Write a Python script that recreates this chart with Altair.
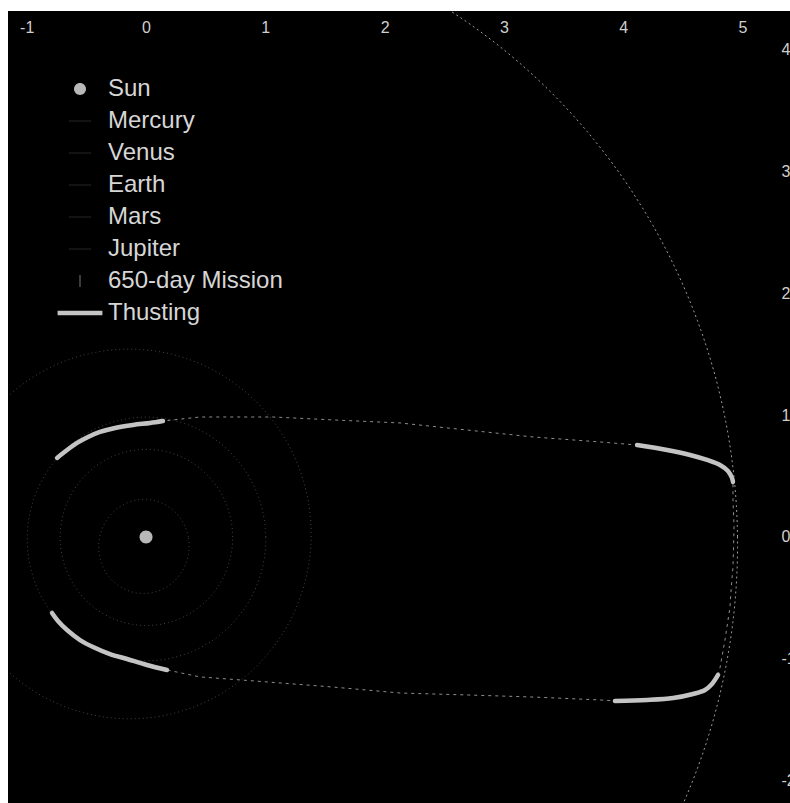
import altair as alt
import numpy as np
import pandas as pd

# ---------------- data ----------------
legend_names = ["Sun", "Mercury", "Venus", "Earth", "Mars", "Jupiter",
                "650-day Mission", "Thusting"]
legend_colors = ["#b8b8b8", "#1c1c1c", "#1c1c1c", "#1c1c1c", "#1c1c1c",
                 "#1c1c1c", "#6a6a6a", "#c4c4c4"]
legend_shapes = [
    "M0,-0.857A0.857,0.857 0 1,1 0,0.857A0.857,0.857 0 1,1 0,-0.857Z",
    "M-1.6,-0.1H1.6V0.1H-1.6Z",
    "M-1.6,-0.1H1.6V0.1H-1.6Z",
    "M-1.6,-0.1H1.6V0.1H-1.6Z",
    "M-1.6,-0.1H1.6V0.1H-1.6Z",
    "M-1.6,-0.1H1.6V0.1H-1.6Z",
    "M-0.08,-0.85H0.08V0.85H-0.08Z",
    "M-3.2,-0.32H3.2V0.32H-3.2Z",
]

# orbital elements (AU, -, degrees)
planets = ["Mercury", "Venus", "Earth", "Mars", "Jupiter"]
semi_major = [0.387, 0.723, 1.0, 1.524, 5.2]
eccentricity = [0.206, 0.007, 0.017, 0.093, 0.048]
perihelion_deg = [77, 131, 103, -10, 15]

# mission trajectory (AU)
seg_T1_x = [-0.746, -0.662, -0.578, -0.486, -0.386, -0.260, -0.109, 0.034, 0.142]
seg_T1_y = [0.649, 0.714, 0.772, 0.821, 0.862, 0.895, 0.920, 0.936, 0.952]
seg_C1_x = [0.142, 0.453, 1.065, 1.567, 2.129, 2.691, 3.244, 3.806, 4.116]
seg_C1_y = [0.952, 0.985, 0.985, 0.961, 0.936, 0.878, 0.821, 0.780, 0.755]
seg_T2_x = [4.116, 4.367, 4.560, 4.703, 4.811, 4.878, 4.912, 4.920]
seg_T2_y = [0.755, 0.714, 0.673, 0.632, 0.591, 0.542, 0.484, 0.452]
seg_C2_x = [4.920, 4.920, 4.929, 4.920, 4.904, 4.895, 4.853, 4.811, 4.795]
seg_C2_y = [0.452, 0.304, 0.082, -0.246, -0.435, -0.575, -0.846, -1.076, -1.133]
seg_T3_x = [4.795, 4.744, 4.686, 4.585, 4.418, 4.200, 3.931]
seg_T3_y = [-1.133, -1.207, -1.256, -1.289, -1.322, -1.338, -1.346]
seg_C3_x = [3.931, 3.806, 3.244, 2.691, 2.129, 1.567, 1.014, 0.453, 0.176]
seg_C3_y = [-1.346, -1.338, -1.314, -1.297, -1.281, -1.232, -1.190, -1.149, -1.092]
seg_T4_x = [0.176, 0.008, -0.159, -0.302, -0.444, -0.553, -0.662, -0.738, -0.788]
seg_T4_y = [-1.092, -1.051, -1.002, -0.961, -0.903, -0.846, -0.764, -0.690, -0.624]

x_ticks = [-1, 0, 1, 2, 3, 4, 5]
y_ticks = [-2, -1, 0, 1, 2, 3, 4]
x_domain = [-1.157, 5.398]
y_domain = [-2.184, 4.318]

# ---------------- tables ----------------
rows = []
theta = np.radians(np.arange(0, 361, 1.0))
for n, a, e, w in zip(planets, semi_major, eccentricity, perihelion_deg):
    r = a * (1 - e ** 2) / (1 + e * np.cos(theta - np.radians(w)))
    for i, (t, rr) in enumerate(zip(theta, r)):
        rows.append({"name": n, "i": i, "x": rr * np.cos(t), "y": rr * np.sin(t)})
orbits = pd.DataFrame(rows)

segs = [("T1", seg_T1_x, seg_T1_y), ("C1", seg_C1_x, seg_C1_y),
        ("T2", seg_T2_x, seg_T2_y), ("C2", seg_C2_x, seg_C2_y),
        ("T3", seg_T3_x, seg_T3_y), ("C3", seg_C3_x, seg_C3_y),
        ("T4", seg_T4_x, seg_T4_y)]
mrows = []
k = 0
for s, xs_, ys_ in segs:
    for xx, yy in zip(xs_, ys_):
        mrows.append({"seg": s, "k": k, "x": xx, "y": yy})
        k += 1
mission = pd.DataFrame(mrows)
thrust = mission[mission["seg"].str.startswith("T")]

sun = pd.DataFrame({"name": ["Sun"], "x": [0.0], "y": [0.0]})

# ---------------- encodings ----------------
label_expr = "datum.value < 0 ? '-' + abs(datum.value) : '' + datum.value"
xs = alt.Scale(domain=x_domain, nice=False, zero=False)
ys = alt.Scale(domain=y_domain, nice=False, zero=False)
xax = alt.Axis(orient="top", values=x_ticks, offset=-24, labelPadding=0,
               tickSize=0, ticks=False, domain=False, grid=False,
               labelFlush=False, labelColor="#cfcfcf", labelFontSize=16,
               labelFont="Liberation Sans", labelExpr=label_expr, title=None)
yax = alt.Axis(orient="right", values=y_ticks, offset=-9, labelPadding=0,
               tickSize=0, ticks=False, domain=False, grid=False,
               labelFlush=False, labelColor="#cfcfcf", labelFontSize=16,
               labelFont="Liberation Sans", labelAlign="left",
               labelBaseline="middle", labelExpr=label_expr, title=None)
X = alt.X("x:Q", scale=xs, axis=xax)
Y = alt.Y("y:Q", scale=ys, axis=yax)

inner = alt.Chart(orbits[orbits["name"] != "Jupiter"]).mark_line(
    clip=True, color="#464646", strokeWidth=1, strokeDash=[1, 3]
).encode(x=X, y=Y, detail="name:N", order="i:Q")

jup = alt.Chart(orbits[orbits["name"] == "Jupiter"]).mark_line(
    clip=True, color="#9c9c9c", strokeWidth=1, strokeDash=[2, 3]
).encode(x=X, y=Y, order="i:Q")

coast = alt.Chart(mission).mark_line(
    clip=True, color="#8e8e8e", strokeWidth=1, strokeDash=[3, 4]
).encode(x=X, y=Y, order="k:Q")

burn = alt.Chart(thrust).mark_line(
    clip=True, color="#c4c4c4", strokeWidth=4.5, strokeCap="round",
    strokeJoin="round", interpolate="catmull-rom"
).encode(x=X, y=Y, detail="seg:N", order="k:Q")

leg = alt.Legend(orient="none", legendX=60, legendY=66, title=None,
                 labelFontSize=24, labelColor="#d6d6d6",
                 labelFont="Liberation Sans", symbolSize=196,
                 symbolStrokeWidth=0, symbolOpacity=1, rowPadding=8,
                 labelOffset=16, symbolOffset=0, padding=0, labelLimit=400)

sun_layer = alt.Chart(sun).mark_point(filled=True, size=230, opacity=1).encode(
    x=X, y=Y,
    color=alt.Color("name:N", scale=alt.Scale(domain=legend_names,
                                              range=legend_colors), legend=leg),
    shape=alt.Shape("name:N", scale=alt.Scale(domain=legend_names,
                                              range=legend_shapes), legend=leg),
)

chart = alt.layer(inner, jup, coast, burn, sun_layer).properties(
    width=782, height=792,
    background="white",
    padding={"left": 8, "top": 11, "right": 0, "bottom": 0},
    autosize=alt.AutoSizeParams(type="none"),
).configure_view(fill="black", stroke=None)

chart.save("out.html", embed_options={"renderer": "svg", "actions": False})
